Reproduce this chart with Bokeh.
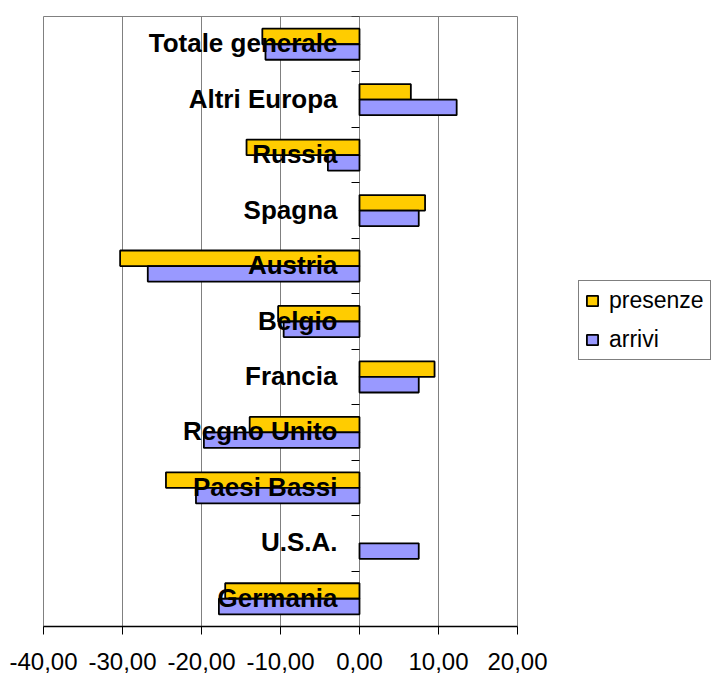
from bokeh.plotting import figure
from bokeh.layouts import row
from bokeh.models import (ColumnDataSource, Range1d, FixedTicker, Legend, LegendItem)
from bokeh.core.properties import value
from bokeh.embed import file_html
from bokeh.resources import INLINE

# Variazioni percentuali per paese (dal basso verso l'alto)
categories = ["Germania", "U.S.A.", "Paesi Bassi", "Regno Unito", "Francia",
              "Belgio", "Austria", "Spagna", "Russia", "Altri Europa",
              "Totale generale"]
presenze = [-17.0, None, -24.5, -13.9, 9.5, -10.3, -30.3, 8.3, -14.3, 6.5, -12.3]
arrivi = [-17.8, 7.5, -20.7, -19.7, 7.5, -9.6, -26.8, 7.5, -4.0, 12.3, -11.9]

x_ticks = [-40, -30, -20, -10, 0, 10, 20]
x_tick_labels = ["-40,00", "-30,00", "-20,00", "-10,00", "0,00", "10,00", "20,00"]

FONT = "Liberation Sans"
BAR_H = 0.28
PRES_STYLE = dict(fill_color="#FFCC00", line_color="black", line_width=1.8)
ARR_STYLE = dict(fill_color="#9999FF", line_color="black", line_width=1.8)

pos = list(range(len(categories)))
src = ColumnDataSource(data=dict(
    cat=categories,
    pos=pos,
    pos_pres=[p + BAR_H / 2 for p in pos],
    pos_arr=[p - BAR_H / 2 for p in pos],
    presenze=[float("nan") if v is None else v for v in presenze],
    arrivi=arrivi,
))

p = figure(width=550, height=673, output_backend="svg", toolbar_location=None,
           x_range=Range1d(x_ticks[0], x_ticks[-1]),
           y_range=Range1d(-0.5, len(categories) - 0.5),
           min_border_left=43, min_border_right=33,
           min_border_top=16, min_border_bottom=47)
p.background_fill_color = "white"
p.border_fill_color = "white"
p.outline_line_color = "#808080"
p.outline_line_width = 1

# vertical gridlines
p.xgrid.ticker = FixedTicker(ticks=x_ticks)
p.xgrid.grid_line_color = "#808080"
p.xgrid.grid_line_width = 1
p.ygrid.visible = False

p.hbar(y="pos_pres", right="presenze", left=0, height=BAR_H, source=src, **PRES_STYLE)
p.hbar(y="pos_arr", right="arrivi", left=0, height=BAR_H, source=src, **ARR_STYLE)

# category names drawn next to the zero line, over the bars
p.text(x=0, y="pos", text="cat", source=src, x_offset=-22, y_offset=-1,
       text_align="right", text_baseline="middle",
       text_font=value(FONT), text_font_style="bold",
       text_font_size="26px", text_color="black")

# x axis
xa = p.xaxis[0]
xa.ticker = FixedTicker(ticks=x_ticks)
xa.major_label_overrides = {t: lab for t, lab in zip(x_ticks, x_tick_labels)}
xa.major_label_text_font = FONT
xa.major_label_text_font_size = "24px"
xa.major_label_text_color = "black"
xa.major_label_standoff = 18
xa.axis_line_color = "black"
xa.axis_line_width = 1.5
xa.major_tick_out = 8
xa.major_tick_in = 0
xa.major_tick_line_color = "black"
xa.minor_tick_line_color = None

# category axis crossing at zero: only the boundary tick marks are shown
ya = p.yaxis[0]
ya.fixed_location = 0
y_bounds = [i - 0.5 for i in range(len(categories) + 1)]
ya.ticker = FixedTicker(ticks=y_bounds)
ya.major_label_overrides = {t: "" for t in y_bounds}
ya.axis_line_alpha = 0
ya.major_tick_out = 8
ya.major_tick_in = 0
ya.major_tick_line_color = "black"
ya.minor_tick_line_color = None

# legend panel to the right of the chart
lp = figure(width=161, height=673, output_backend="svg", toolbar_location=None,
            x_range=Range1d(0, 1), y_range=Range1d(0, 1),
            x_axis_location=None, y_axis_location=None,
            min_border=0)
lp.grid.visible = False
lp.outline_line_color = None
lp.background_fill_color = "white"
lp.border_fill_color = "white"
# legend-only renderers (a single undefined row, so nothing is drawn in the panel)
swatch = ColumnDataSource(data=dict(y=[float("nan")], right=[float("nan")]))
lr_pres = lp.hbar(y="y", right="right", left=0, height=BAR_H, source=swatch, **PRES_STYLE)
lr_arr = lp.hbar(y="y", right="right", left=0, height=BAR_H, source=swatch, **ARR_STYLE)

legend = Legend(items=[LegendItem(label="presenze", renderers=[lr_pres]),
                       LegendItem(label="arrivi", renderers=[lr_arr])],
                location=(28, 266))
legend.label_text_font = FONT
legend.label_text_font_size = "23px"
legend.label_text_color = "black"
legend.glyph_width = 14
legend.glyph_height = 13
legend.label_standoff = 10
legend.padding = 6
legend.spacing = 12
legend.margin = 0
legend.border_line_color = "black"
legend.border_line_width = 1
legend.background_fill_color = "white"
legend.background_fill_alpha = 1
lp.add_layout(legend, "center")

open("out.html", "w").write(file_html(row(p, lp), INLINE))
